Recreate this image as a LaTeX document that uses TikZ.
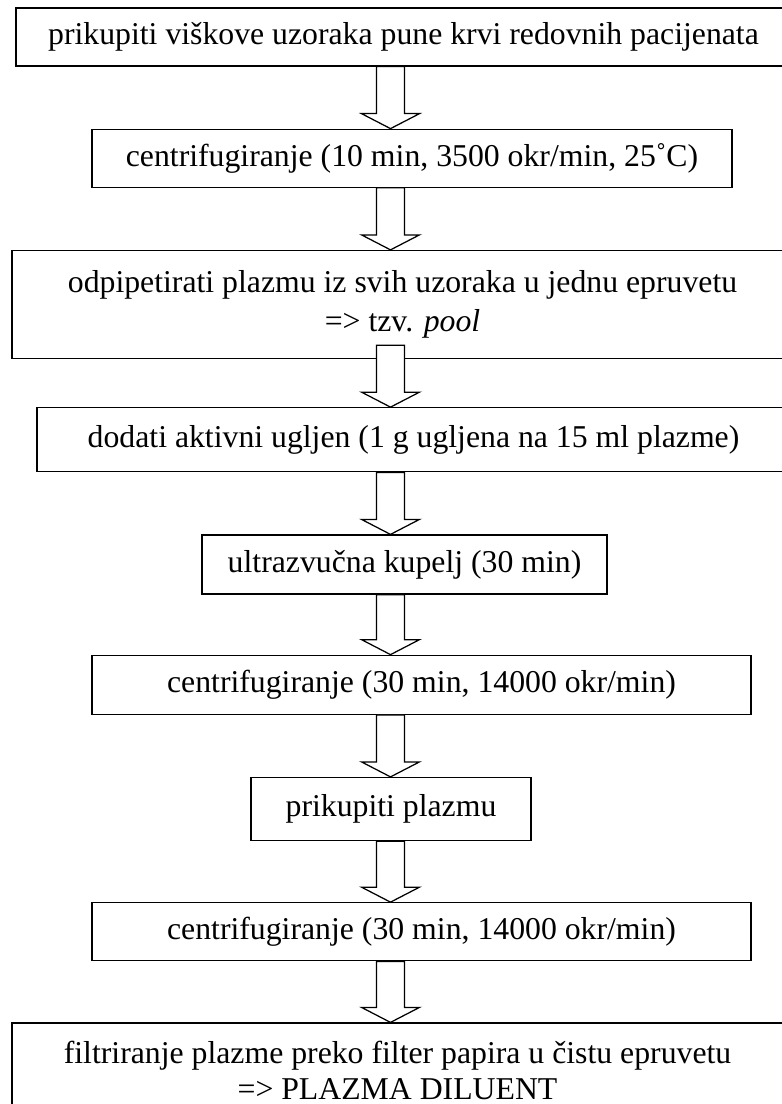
\documentclass[tikz,border=0pt]{standalone}
\usepackage{fontspec}
\setmainfont{Liberation Serif}
\usetikzlibrary{positioning, calc}

% hollow block arrow along the axis, from one box down to the next
\newcommand{\flowarrow}[3][0]{%
  \draw[blockarrow] ($(axis |- #2.south)+(-14,#1)$) -- ($(axis |- #3.north)+(-14,15)$)
    -- ($(axis |- #3.north)+(-29,15)$) -- (axis |- #3.north)
    -- ($(axis |- #3.north)+(29,15)$) -- ($(axis |- #3.north)+(14,15)$)
    -- ($(axis |- #2.south)+(14,#1)$) -- cycle;}

\begin{document}
\begin{tikzpicture}[
    x=0.4pt, y=0.4pt,
    stepbox/.style={draw, line width=0.5pt, align=center, inner sep=0pt,
      font=\fontsize{12.7}{15.6}\selectfont, minimum height=23.2pt},
    blockarrow/.style={draw, fill=white, line width=0.5pt, line join=miter}
]
    \useasboundingbox (0,0) rectangle (781,-1104);
    \coordinate (axis) at (390.5,0);

    % Nodes
    \node (collect) [stepbox, minimum width=310pt] at (403.5,-37) {prikupiti viškove uzoraka pune krvi redovnih pacijenata};
    \node (spin1) [stepbox, minimum width=256pt, below=24.8pt of collect, xshift=3.4pt] {centrifugiranje (10 min, 3500 okr/min, 25˚C)};
    \node (pool) [stepbox, minimum width=312.4pt, minimum height=43.2pt, below=24.8pt of spin1, xshift=-3.8pt] {odpipetirati plazmu iz svih uzoraka u jednu epruvetu\\=> tzv. \textit{pool}};
    \node (charcoal) [stepbox, minimum width=301.2pt, minimum height=25.6pt, below=19.2pt of pool, xshift=4.4pt] {dodati aktivni ugljen (1 g ugljena na 15 ml plazme)};
    \node (ultra) [stepbox, minimum width=162pt, minimum height=23.6pt, below=24.8pt of charcoal, xshift=-3.6pt] {ultrazvučna kupelj (30 min)};
    \node (spin2) [stepbox, minimum width=263.6pt, minimum height=23.6pt, below=24pt of ultra, xshift=6.8pt] {centrifugiranje (30 min, 14000 okr/min)};
    \node (plasma) [stepbox, minimum width=112pt, minimum height=25.2pt, below=24.8pt of spin2, xshift=-12.2pt] {prikupiti plazmu};
    \node (spin3) [stepbox, minimum width=263.6pt, below=24.4pt of plasma, xshift=12.2pt] {centrifugiranje (30 min, 14000 okr/min)};
    \node (filter) [stepbox, minimum width=308.4pt, minimum height=37.6pt, below=24.4pt of spin3, xshift=-9.6pt, font=\fontsize{12.7}{14.4}\selectfont] {filtriranje plazme preko filter papira u čistu epruvetu\\=> PLAZMA DILUENT};

    % Arrows
    \flowarrow{collect}{spin1}
    \flowarrow{spin1}{pool}
    \flowarrow[14]{pool}{charcoal}
    \flowarrow{charcoal}{ultra}
    \flowarrow{ultra}{spin2}
    \flowarrow{spin2}{plasma}
    \flowarrow{plasma}{spin3}
    \flowarrow{spin3}{filter}
\end{tikzpicture}
\end{document}
